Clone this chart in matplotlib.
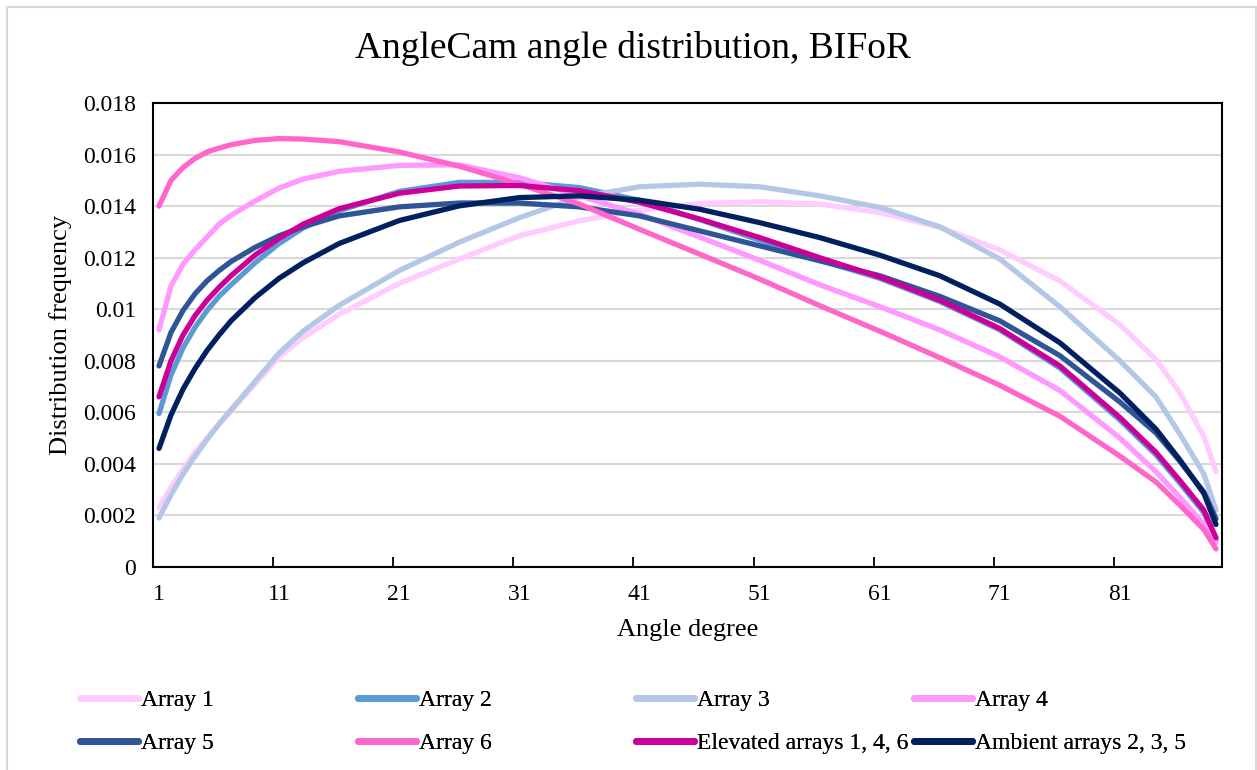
import matplotlib
matplotlib.use("Agg")
import matplotlib.pyplot as plt
from matplotlib.patches import Rectangle
from matplotlib.ticker import FixedLocator, NullFormatter, FixedFormatter

plt.rcParams['font.family'] = ['Liberation Serif', 'DejaVu Serif']

degrees = [1, 2, 3, 4, 5, 6, 7, 9, 11, 13, 16, 21, 26, 31, 36, 41, 46, 51, 56,
           61, 66, 71, 76, 81, 84, 86, 88, 89]

# values in units of 0.001
array1 = [2.3, 3.1, 3.8, 4.45, 5.0, 5.55, 6.05, 7.1, 8.15, 8.9, 9.8, 11.0, 11.95, 12.85,
          13.43, 13.84, 14.1, 14.17, 14.08, 13.75, 13.18, 12.3, 11.1, 9.4, 8.05, 6.75, 5.05, 3.7]
array2 = [5.95, 7.45, 8.5, 9.3, 9.95, 10.5, 10.95, 11.8, 12.55, 13.15, 13.82, 14.57, 14.92, 14.92,
          14.72, 14.23, 13.48, 12.68, 11.9, 11.2, 10.3, 9.2, 7.72, 5.7, 4.35, 3.25, 2.1, 1.02]
array3 = [1.9, 2.8, 3.6, 4.3, 4.95, 5.55, 6.1, 7.2, 8.3, 9.15, 10.15, 11.5, 12.6, 13.55,
          14.35, 14.75, 14.85, 14.75, 14.4, 13.95, 13.2, 11.95, 10.1, 8.0, 6.6, 5.15, 3.6, 2.2]
array4 = [9.2, 10.9, 11.75, 12.3, 12.8, 13.3, 13.65, 14.2, 14.7, 15.05, 15.35, 15.58, 15.6, 15.1,
          14.4, 13.69, 12.8, 11.9, 10.95, 10.1, 9.2, 8.15, 6.85, 5.0, 3.7, 2.7, 1.65, 0.95]
array5 = [7.8, 9.1, 9.95, 10.6, 11.1, 11.5, 11.85, 12.4, 12.85, 13.2, 13.62, 13.97, 14.12, 14.12,
          13.97, 13.62, 13.04, 12.46, 11.88, 11.3, 10.5, 9.55, 8.2, 6.4, 5.2, 4.1, 2.9, 1.87]
array6 = [14.0, 15.0, 15.5, 15.85, 16.1, 16.25, 16.38, 16.55, 16.62, 16.6, 16.5, 16.1, 15.55, 14.85,
          14.08, 13.1, 12.14, 11.17, 10.14, 9.15, 8.12, 7.05, 5.85, 4.3, 3.3, 2.4, 1.45, 0.7]
elevated = [6.6, 8.0, 9.0, 9.75, 10.35, 10.85, 11.3, 12.1, 12.75, 13.3, 13.9, 14.5, 14.78, 14.8,
            14.6, 14.15, 13.5, 12.78, 12.0, 11.25, 10.35, 9.25, 7.8, 5.8, 4.45, 3.35, 2.2, 1.13]
ambient = [4.6, 5.9, 6.9, 7.7, 8.4, 9.0, 9.55, 10.45, 11.2, 11.8, 12.55, 13.44, 14.01, 14.33,
           14.4, 14.23, 13.88, 13.36, 12.78, 12.1, 11.3, 10.2, 8.7, 6.75, 5.35, 4.15, 2.85, 1.65]

series_names = ["Array 1", "Array 2", "Array 3", "Array 4", "Array 5", "Array 6",
                "Elevated arrays 1, 4, 6", "Ambient arrays 2, 3, 5"]
series_values = [array1, array2, array3, array4, array5, array6, elevated, ambient]
series_colors = ["#FFCCFF", "#5B9BD5", "#B4C7E7", "#FF99FF", "#2F5597", "#FF66CC",
                 "#CC0099", "#002060"]

y_ticks = [0, 0.002, 0.004, 0.006, 0.008, 0.01, 0.012, 0.014, 0.016, 0.018]
y_tick_labels = ["0", "0.002", "0.004", "0.006", "0.008", "0.01", "0.012", "0.014", "0.016", "0.018"]
x_label_positions = [1, 11, 21, 31, 41, 51, 61, 71, 81]

W, H = 1257, 770
fig = plt.figure(figsize=(W / 100, H / 100), dpi=100)
fig.patch.set_facecolor("white")
ax = fig.add_axes([153 / W, 1 - 567 / H, (1222 - 153) / W, (567 - 103) / H])

# outer chart border
fig.add_artist(Rectangle((6.5 / W, -0.05), (1255.5 - 6.5) / W, 1 - 7 / H + 0.05,
                         transform=fig.transFigure, fill=False,
                         edgecolor="#D9D9D9", linewidth=1.5))

handles = []
for name, vals, col in zip(series_names, series_values, series_colors):
    h, = ax.plot(degrees, [v / 1000 for v in vals], color=col, linewidth=3.8,
                 solid_capstyle="round", solid_joinstyle="round", label=name)
    handles.append(h)

ax.set_xlim(0.5, 89.5)
ax.set_ylim(0, 0.018)
ax.set_yticks(y_ticks)
ax.set_yticklabels(y_tick_labels)
ax.tick_params(axis="y", length=0, labelsize=17, pad=12)
ax.yaxis.grid(True, color="#D9D9D9", linewidth=1.5)
ax.set_axisbelow(True)

# tick marks at category boundaries, labels at category centers
ax.xaxis.set_major_locator(FixedLocator([10.5 + 10 * i for i in range(8)]))
ax.xaxis.set_major_formatter(NullFormatter())
ax.xaxis.set_minor_locator(FixedLocator(x_label_positions))
ax.xaxis.set_minor_formatter(FixedFormatter([str(v) for v in x_label_positions]))
ax.tick_params(axis="x", which="major", direction="in", length=7, width=1.3, color="black")
ax.tick_params(axis="x", which="minor", length=0, labelsize=17, pad=12)

for s in ax.spines.values():
    s.set_color("black")
    s.set_linewidth(1.5)

ax.set_xlabel("Angle degree", fontsize=19, labelpad=10)
ax.set_ylabel("Distribution frequency", fontsize=19, labelpad=8)
fig.text(633 / W, 1 - 48 / H, "AngleCam angle distribution, BIFoR", fontsize=27,
         ha="center", va="center")

# legend: 4 columns x 2 rows, filled row-wise, each entry placed at its slot
col_x = [80, 358, 636, 914]
row_y = [700, 743]
for i, h in enumerate(handles):
    r, c = divmod(i, 4)
    leg = fig.legend(handles=[h], labels=[series_names[i]], loc="center left",
                     bbox_to_anchor=(col_x[c] / W, 1 - row_y[r] / H),
                     frameon=False, fontsize=17, handlelength=2.45,
                     handletextpad=0.12, borderpad=0, borderaxespad=0)
    for line in leg.get_lines():
        line.set_linewidth(5)
    fig.add_artist(leg)

fig.savefig("out.png", dpi=100, facecolor="white")
